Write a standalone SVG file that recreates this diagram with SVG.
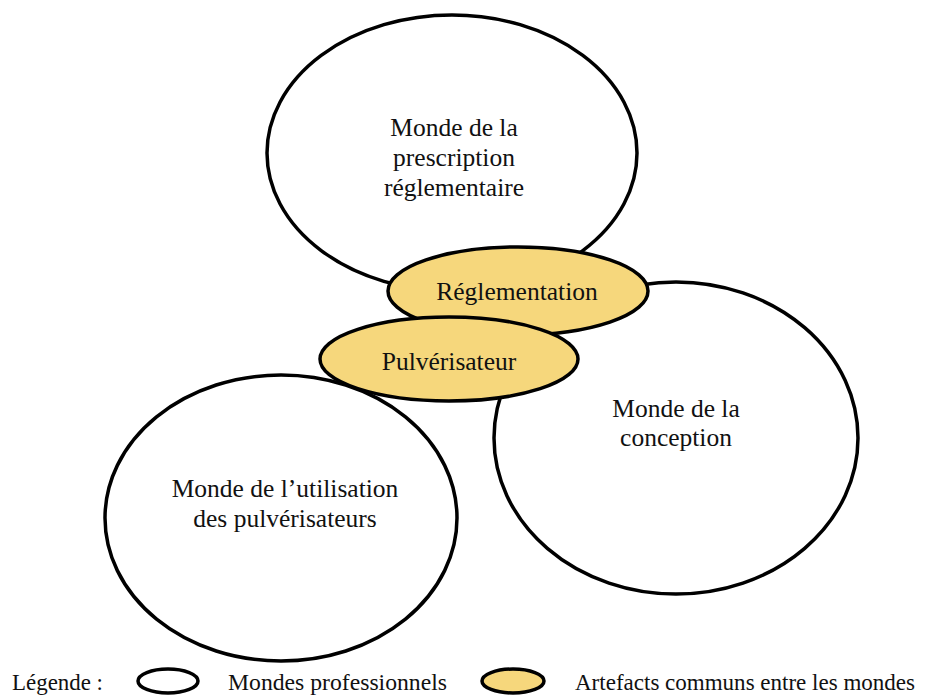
<svg xmlns="http://www.w3.org/2000/svg" width="927" height="698" viewBox="0 0 927 698">
<style>
.world{fill:#ffffff;stroke:#000;stroke-width:3.5}
.artefact{fill:#F6D77C;stroke:#000;stroke-width:3.5}
text{font-family:"Liberation Serif","Times New Roman",serif;font-size:25.5px;fill:#111}
.leg{font-size:23px}
.c{text-anchor:middle}
</style>
<rect width="927" height="698" fill="#fff"/>
<g id="connectors"></g>
<g id="monde-prescription">
<ellipse class="world" cx="452" cy="153" rx="185" ry="138"/>
<text class="c" x="454" y="136">Monde de la</text>
<text class="c" x="454" y="166">prescription</text>
<text class="c" x="454" y="196">réglementaire</text>
</g>
<g id="monde-conception">
<ellipse class="world" cx="676" cy="438" rx="182" ry="156"/>
<text class="c" x="676" y="417">Monde de la</text>
<text class="c" x="676" y="446">conception</text>
</g>
<g id="monde-utilisation">
<ellipse class="world" cx="281" cy="518" rx="176" ry="143"/>
<text class="c" x="285" y="497">Monde de l’utilisation</text>
<text class="c" x="285" y="527">des pulvérisateurs</text>
</g>
<g id="reglementation">
<ellipse class="artefact" cx="518" cy="291" rx="130" ry="44"/>
<text class="c" x="517" y="300">Réglementation</text>
</g>
<g id="pulverisateur">
<ellipse class="artefact" cx="449" cy="359" rx="129" ry="42"/>
<text class="c" x="449" y="370">Pulvérisateur</text>
</g>
<g id="legende">
<text class="leg" x="12" y="690" textLength="91" lengthAdjust="spacingAndGlyphs">Légende :</text>
<ellipse class="world" cx="168" cy="681" rx="30" ry="12"/>
<text class="leg" x="228" y="690" textLength="219" lengthAdjust="spacingAndGlyphs">Mondes professionnels</text>
<ellipse class="artefact" cx="513" cy="681" rx="31" ry="12"/>
<text class="leg" x="575" y="690" textLength="340" lengthAdjust="spacingAndGlyphs">Artefacts communs entre les mondes</text>
</g>
</svg>
